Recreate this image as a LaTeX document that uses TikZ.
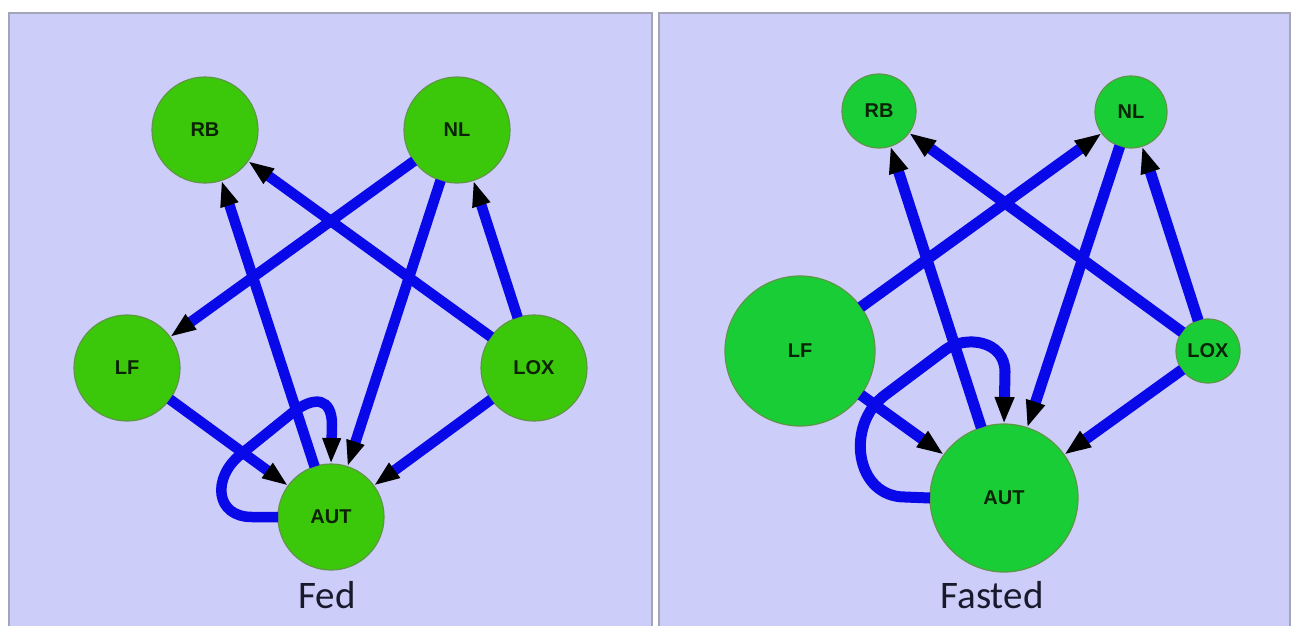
\documentclass[tikz,border=0pt]{standalone}
\usepackage{fontspec}
\setmainfont{Liberation Sans}
\newfontfamily\capfont{Carlito}
\usetikzlibrary{arrows.meta}
\definecolor{panelbg}{RGB}{205,205,250}
\definecolor{panelline}{RGB}{165,165,185}
\definecolor{edgeblue}{RGB}{8,8,232}
\definecolor{gleft}{RGB}{60,200,10}
\definecolor{gright}{RGB}{25,205,55}
\definecolor{nodeline}{RGB}{95,150,70}
\definecolor{labeltxt}{RGB}{10,35,5}
\definecolor{captxt}{RGB}{25,25,45}
\begin{document}
\begin{tikzpicture}[x=1pt,y=-1pt,
  gnode/.style={circle,draw=nodeline,line width=1.2pt,inner sep=0pt,outer sep=0pt,
    font=\bfseries\fontsize{20}{20}\selectfont,text=labeltxt},
  lnode/.style={gnode,fill=gleft,minimum size=106pt},
  rnode/.style={gnode,fill=gright},
  edgel/.style={draw=edgeblue,line width=10.5pt,-{Triangle[length=26pt,width=17pt,color=black]}},
  edger/.style={draw=edgeblue,line width=11pt,-{Triangle[length=27pt,width=18pt,color=black]}},
  panel/.style={draw=panelline,line width=2pt,fill=panelbg},
  caption/.style={anchor=base,font=\capfont\fontsize{39}{39}\selectfont,text=captxt}]
\useasboundingbox (0,0) rectangle (1295,625);
\fill[white] (0,0) rectangle (1295,625);
\draw[panel] (9,13) rectangle (652,640);
\draw[panel] (659,13) rectangle (1290,640);

% Fed panel
\node[lnode] (RBl) at (205,130) {RB};
\node[lnode] (NLl) at (457,130) {NL};
\node[lnode] (LFl) at (127,368) {LF};
\node[lnode] (LOXl) at (534,368) {LOX};
\node[lnode] (AUTl) at (331,517) {AUT};
\node[caption] (fedcap) at (327,608) {Fed};

\draw[edgel] (AUTl) -- (RBl);
\draw[edgel] (LOXl) -- (RBl);
\draw[edgel] (NLl) -- (LFl);
\draw[edgel] (NLl) -- (AUTl);
\draw[edgel] (LOXl) -- (NLl);
\draw[edgel] (LFl) -- (AUTl);
\draw[edgel] (LOXl) -- (AUTl);
\draw[edgel] (AUTl.west) -- (252,517) .. controls (215,517) and (212,478) .. (240,455)
  -- (292,413) .. controls (315,395) and (332,398) .. (332,425) -- (AUTl.north);

% Fasted panel
\node[rnode,minimum size=74pt] (RBr) at (879,111) {RB};
\node[rnode,minimum size=72pt] (NLr) at (1131,112) {NL};
\node[rnode,minimum size=150pt] (LFr) at (800,351) {LF};
\node[rnode,minimum size=64pt] (LOXr) at (1208,351) {LOX};
\node[rnode,minimum size=148pt] (AUTr) at (1004,498) {AUT};
\node[caption] (fastcap) at (992,608) {Fasted};

\draw[edger] (AUTr) -- (RBr);
\draw[edger] (LOXr) -- (RBr);
\draw[edger] (LFr) -- (NLr);
\draw[edger] (NLr) -- (AUTr);
\draw[edger] (LOXr) -- (NLr);
\draw[edger] (LFr) -- (AUTr);
\draw[edger] (LOXr) -- (AUTr);
\draw[edger] (AUTr.west) -- (905,497) .. controls (855,497) and (845,425) .. (885,395)
  -- (945,350) .. controls (965,335) and (1005,340) .. (1005,372) -- (AUTr.north);
\end{tikzpicture}
\end{document}
